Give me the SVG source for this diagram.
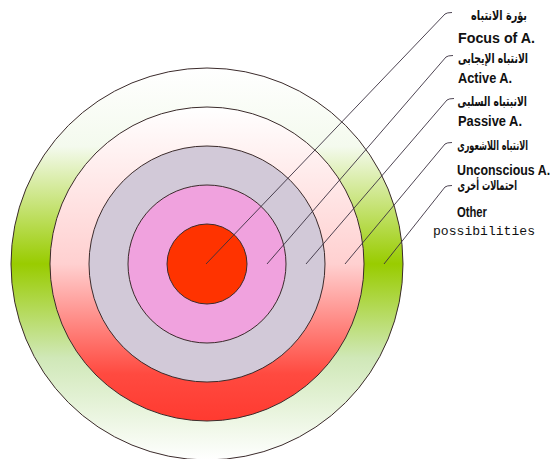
<svg xmlns="http://www.w3.org/2000/svg" width="555" height="459" viewBox="0 0 555 459">
<style>
.ring{stroke:#3b2b2b;stroke-width:1}
.lead{fill:none;stroke:#3a3040;stroke-width:0.9}
.en{font-family:"Liberation Sans",Arial,sans-serif;font-weight:bold;font-size:14.5px;fill:#111}
.ar{font-family:"DejaVu Sans",sans-serif;font-weight:bold;font-size:13.5px;fill:#111;text-anchor:end}
.mono{font-family:"Liberation Mono","Courier New",monospace;font-size:13px;fill:#111}
</style>
<defs>
<linearGradient id="gGreen" x1="0" y1="0" x2="0" y2="1">
<stop offset="0" stop-color="#ffffff"/>
<stop offset="0.2" stop-color="#f4faee"/>
<stop offset="0.5" stop-color="#99cc00"/>
<stop offset="0.74" stop-color="#d0e8b8"/>
<stop offset="1" stop-color="#ffffff"/>
</linearGradient>
<linearGradient id="gRed" x1="0" y1="0" x2="0" y2="1">
<stop offset="0" stop-color="#ffffff"/>
<stop offset="0.5" stop-color="#ffd0d0"/>
<stop offset="0.85" stop-color="#ff4a40"/>
<stop offset="1" stop-color="#ff3a30"/>
</linearGradient>
</defs>
<rect width="555" height="459" fill="#ffffff"/>
<g id="other"><circle class="ring" cx="207" cy="264" r="196" fill="url(#gGreen)"/></g>
<g id="unconscious"><circle class="ring" cx="207" cy="264" r="157" fill="url(#gRed)"/></g>
<g id="passive"><circle class="ring" cx="207" cy="264" r="118" fill="#d2c9d8"/></g>
<g id="active"><circle class="ring" cx="207" cy="264" r="79" fill="#f0a2de"/></g>
<g id="focus"><circle class="ring" cx="207" cy="264" r="40" fill="#ff3300"/></g>
<g id="connectors">
<path class="lead" d="M206,264 L445,14 Q447,12.5 452,12.5"/>
<path class="lead" d="M267,264 L446,57 Q448,55.5 453,55.5"/>
<path class="lead" d="M306,264 L447,100 Q449,98.5 454,98.5"/>
<path class="lead" d="M345,264 L445,144 Q447,142.5 452,142.5"/>
<path class="lead" d="M384,264 L445,187 Q447,185.5 452,185.5"/>
</g>
<g id="labels">
<text class="ar" transform="translate(527,20) scale(0.72,1)">بؤرة الانتباه</text>
<text class="en" x="458" y="43" textLength="77" lengthAdjust="spacingAndGlyphs">Focus of A.</text>
<text class="ar" transform="translate(528,63) scale(0.69,1)">الانتباه الإيجابى</text>
<text class="en" x="458" y="83" textLength="54" lengthAdjust="spacingAndGlyphs">Active A.</text>
<text class="ar" transform="translate(527,106) scale(0.68,1)">الانبتباه السلبى</text>
<text class="en" x="458" y="126" textLength="64" lengthAdjust="spacingAndGlyphs">Passive A.</text>
<text class="ar" transform="translate(528,150) scale(0.6,1)">الانتباه اللاشعورى</text>
<text class="en" transform="translate(457,175) scale(0.855,1)">Unconscious A.</text>
<text class="ar" transform="translate(517,190) scale(0.61,1)">احتمالات أخرى</text>
<text class="en" x="457" y="217" textLength="30" lengthAdjust="spacingAndGlyphs">Other</text>
<text class="mono" x="433" y="235" textLength="102" lengthAdjust="spacingAndGlyphs">possibilities</text>
</g>
</svg>
